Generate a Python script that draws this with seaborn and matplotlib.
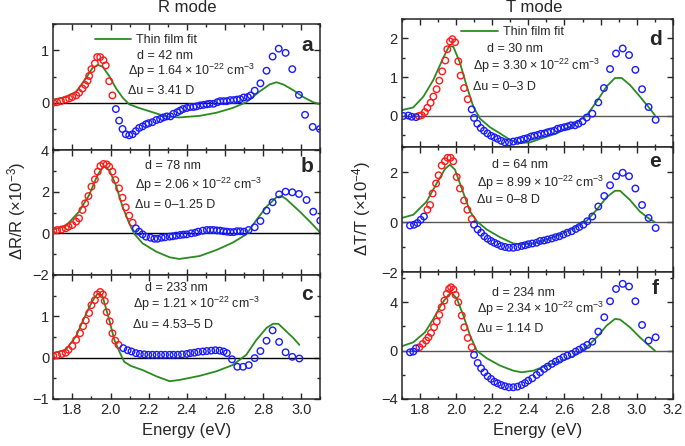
import pandas as pd
import seaborn as sns
import matplotlib.pyplot as plt
from matplotlib.ticker import MultipleLocator

# ---- R mode, panel a (d = 42 nm) ----
a_red_e = [1.70, 1.72, 1.74, 1.765, 1.783, 1.80, 1.82, 1.835, 1.853, 1.867, 1.88, 1.888, 1.90, 1.918, 1.93, 1.946, 1.963, 1.975, 1.993, 2.01]
a_red_v = [0.0, 0.01, 0.03, 0.06, 0.08, 0.11, 0.14, 0.19, 0.27, 0.34, 0.42, 0.51, 0.64, 0.75, 0.87, 0.87, 0.81, 0.71, 0.41, 0.14]
a_blue_e = [2.028, 2.045, 2.063, 2.08, 2.098, 2.116, 2.133, 2.15, 2.168, 2.186, 2.20, 2.22, 2.24, 2.26, 2.277, 2.295, 2.314, 2.33, 2.35, 2.365,
            2.38, 2.40, 2.418, 2.435, 2.45, 2.47, 2.488, 2.505, 2.52, 2.54, 2.56, 2.575, 2.593, 2.61, 2.628, 2.646, 2.663, 2.68, 2.698, 2.72,
            2.735, 2.756, 2.786, 2.818, 2.85, 2.882, 2.918, 2.953, 2.988, 3.02, 3.06, 3.098]
a_blue_v = [-0.12, -0.34, -0.50, -0.60, -0.62, -0.60, -0.54, -0.48, -0.45, -0.41, -0.39, -0.37, -0.33, -0.31, -0.28, -0.26, -0.26, -0.21, -0.18, -0.15,
            -0.12, -0.10, -0.08, -0.08, -0.07, -0.05, -0.04, -0.03, -0.02, -0.02, 0.01, 0.03, 0.03, 0.03, 0.05, 0.05, 0.06, 0.07, 0.10, 0.11,
            0.14, 0.23, 0.37, 0.61, 0.88, 1.03, 0.95, 0.64, 0.15, -0.23, -0.46, -0.50]
a_fit_e = [1.70, 1.765, 1.82, 1.87, 1.905, 1.933, 1.958, 1.993, 2.028, 2.063, 2.098, 2.15, 2.22, 2.29, 2.36, 2.467, 2.555, 2.64, 2.712, 2.78,
           2.835, 2.87, 2.905, 2.958, 3.01, 3.063, 3.10]
a_fit_v = [0.06, 0.11, 0.21, 0.46, 0.66, 0.72, 0.69, 0.51, 0.28, 0.10, -0.03, -0.10, -0.18, -0.26, -0.28, -0.25, -0.19, -0.10, 0.01, 0.21,
           0.35, 0.39, 0.35, 0.24, 0.11, 0.01, -0.03]

# ---- R mode, panel b (d = 78 nm) ----
b_red_e = [1.70, 1.72, 1.745, 1.765, 1.78, 1.80, 1.82, 1.835, 1.853, 1.867, 1.884, 1.90, 1.918, 1.933, 1.947, 1.963, 1.98, 1.993, 2.01, 2.025,
           2.045, 2.063, 2.08, 2.098, 2.116]
b_red_v = [0.13, 0.16, 0.19, 0.24, 0.32, 0.40, 0.56, 0.72, 1.12, 1.44, 1.79, 2.24, 2.59, 2.96, 3.23, 3.33, 3.31, 3.20, 2.96, 2.56,
           2.16, 1.71, 1.25, 0.85, 0.51]
b_blue_e = [2.133, 2.15, 2.168, 2.186, 2.21, 2.23, 2.247, 2.268, 2.286, 2.31, 2.326, 2.344, 2.365, 2.383, 2.40, 2.423, 2.444, 2.46, 2.484, 2.505,
            2.523, 2.54, 2.558, 2.575, 2.593, 2.61, 2.628, 2.646, 2.663, 2.68, 2.70, 2.724, 2.756, 2.786, 2.818, 2.85, 2.884, 2.918, 2.953, 2.988,
            3.028, 3.063, 3.10]
b_blue_v = [0.24, 0.08, -0.05, -0.16, -0.21, -0.26, -0.26, -0.21, -0.19, -0.16, -0.14, -0.11, -0.08, -0.06, -0.05, 0.0, 0.03, 0.08, 0.13, 0.16,
            0.16, 0.16, 0.14, 0.13, 0.10, 0.08, 0.06, 0.06, 0.10, 0.10, 0.08, 0.16, 0.29, 0.59, 1.09, 1.49, 1.87, 2.0, 1.97, 1.89,
            1.6, 1.04, 0.61]
b_fit_e = [1.70, 1.765, 1.835, 1.888, 1.932, 1.963, 1.993, 2.028, 2.063, 2.098, 2.125, 2.168, 2.24, 2.31, 2.36, 2.467, 2.555, 2.64, 2.712, 2.765,
           2.818, 2.87, 2.897, 2.923, 2.993, 3.054, 3.10]
b_fit_v = [0.19, 0.35, 1.04, 1.84, 2.8, 3.23, 3.04, 2.32, 1.28, 0.48, -0.03, -0.48, -0.88, -1.15, -1.23, -1.09, -0.8, -0.45, -0.05, 0.64,
           1.28, 1.73, 1.79, 1.63, 1.04, 0.48, 0.03]

# ---- R mode, panel c (d = 233 nm) ----
c_red_e = [1.70, 1.72, 1.745, 1.765, 1.78, 1.80, 1.82, 1.84, 1.856, 1.87, 1.888, 1.90, 1.918, 1.93, 1.946, 1.96, 1.97, 1.98, 1.996, 2.01,
           2.025, 2.042]
c_red_v = [0.04, 0.06, 0.09, 0.12, 0.19, 0.28, 0.43, 0.59, 0.76, 0.90, 1.08, 1.27, 1.39, 1.53, 1.59, 1.53, 1.37, 1.10, 0.88, 0.59,
           0.41, 0.31]
c_blue_e = [2.067, 2.09, 2.11, 2.133, 2.154, 2.177, 2.198, 2.22, 2.242, 2.265, 2.286, 2.31, 2.33, 2.353, 2.375, 2.40, 2.418, 2.44, 2.46, 2.484,
            2.505, 2.528, 2.55, 2.572, 2.593, 2.61, 2.637, 2.665, 2.695, 2.725, 2.756, 2.786, 2.818, 2.85, 2.884, 2.918, 2.953, 2.99]
c_blue_v = [0.23, 0.18, 0.15, 0.11, 0.09, 0.08, 0.07, 0.07, 0.07, 0.07, 0.07, 0.07, 0.07, 0.07, 0.08, 0.09, 0.11, 0.12, 0.14, 0.15,
            0.16, 0.17, 0.18, 0.17, 0.15, 0.11, -0.04, -0.22, -0.22, -0.18, -0.01, 0.16, 0.41, 0.66, 0.38, 0.13, 0.02, -0.02]
c_fit_e = [1.70, 1.765, 1.818, 1.87, 1.905, 1.933, 1.958, 1.993, 2.02, 2.046, 2.072, 2.107, 2.168, 2.24, 2.31, 2.36, 2.467, 2.555, 2.64, 2.712,
           2.765, 2.818, 2.853, 2.88, 2.923, 2.96, 2.99]
c_fit_v = [0.11, 0.19, 0.51, 1.04, 1.37, 1.55, 1.49, 0.92, 0.43, 0.15, -0.10, -0.20, -0.30, -0.45, -0.57, -0.54, -0.44, -0.33, -0.18, 0.07,
           0.43, 0.72, 0.82, 0.82, 0.63, 0.47, 0.31]

# ---- T mode, panel d (d = 30 nm) ----
d_red_e = [1.795, 1.81, 1.828, 1.842, 1.86, 1.875, 1.893, 1.908, 1.924, 1.941, 1.952, 1.967, 1.98, 1.995, 2.013, 2.026, 2.045, 2.065]
d_red_v = [0.0, 0.02, 0.10, 0.21, 0.34, 0.50, 0.69, 0.91, 1.15, 1.43, 1.72, 1.92, 1.98, 1.90, 1.41, 1.04, 0.72, 0.43]
d_blue_e = [1.709, 1.737, 1.755, 1.779, 2.087, 2.10, 2.118, 2.137, 2.155, 2.174, 2.194, 2.212, 2.23, 2.25, 2.271, 2.293, 2.317, 2.34, 2.358, 2.376,
            2.395, 2.415, 2.433, 2.452, 2.47, 2.49, 2.507, 2.525, 2.544, 2.562, 2.58, 2.60, 2.618, 2.636, 2.658, 2.677, 2.70, 2.723, 2.754, 2.787,
            2.818, 2.852, 2.885, 2.922, 2.957, 2.992, 3.029, 3.065, 3.104]
d_blue_v = [0.0, 0.01, -0.02, -0.03, 0.17, -0.05, -0.20, -0.31, -0.38, -0.45, -0.51, -0.55, -0.59, -0.64, -0.68, -0.68, -0.66, -0.64, -0.62, -0.59,
            -0.57, -0.53, -0.51, -0.49, -0.46, -0.45, -0.42, -0.40, -0.38, -0.33, -0.31, -0.29, -0.27, -0.24, -0.24, -0.20, -0.14, -0.04, 0.06, 0.35,
            0.72, 1.21, 1.61, 1.74, 1.57, 1.19, 0.69, 0.23, -0.10]
d_fit_e = [1.70, 1.764, 1.82, 1.875, 1.93, 1.963, 1.986, 2.022, 2.06, 2.096, 2.133, 2.188, 2.244, 2.30, 2.354, 2.41, 2.465, 2.557, 2.649, 2.723,
           2.778, 2.833, 2.879, 2.916, 2.962, 3.017, 3.063, 3.10]
d_fit_v = [0.15, 0.22, 0.50, 0.93, 1.50, 1.81, 1.78, 1.37, 0.76, 0.24, -0.07, -0.29, -0.45, -0.62, -0.70, -0.68, -0.59, -0.45, -0.23, 0.02,
           0.37, 0.76, 0.98, 0.98, 0.80, 0.50, 0.24, 0.02]

# ---- T mode, panel e (d = 64 nm) ----
e_red_e = [1.842, 1.857, 1.871, 1.89, 1.904, 1.921, 1.939, 1.954, 1.97, 1.985, 2.004, 2.022, 2.045, 2.063, 2.087]
e_red_v = [0.49, 0.68, 1.14, 1.54, 1.87, 2.26, 2.43, 2.57, 2.57, 2.43, 1.80, 1.34, 0.86, 0.49, 0.12]
e_blue_e = [1.746, 1.768, 1.787, 1.805, 1.823, 2.10, 2.12, 2.139, 2.157, 2.175, 2.194, 2.212, 2.23, 2.25, 2.271, 2.293, 2.317, 2.34, 2.363, 2.382,
            2.40, 2.422, 2.446, 2.465, 2.487, 2.507, 2.53, 2.551, 2.572, 2.594, 2.616, 2.64, 2.662, 2.682, 2.704, 2.726, 2.754, 2.787, 2.82, 2.852,
            2.885, 2.922, 2.957, 2.992, 3.029, 3.065, 3.104]
e_blue_v = [-0.14, -0.11, -0.04, 0.09, 0.22, -0.11, -0.30, -0.43, -0.57, -0.67, -0.76, -0.83, -0.89, -0.96, -1.00, -1.03, -1.03, -1.00, -0.96, -0.93,
            -0.89, -0.86, -0.83, -0.76, -0.74, -0.70, -0.66, -0.61, -0.57, -0.50, -0.43, -0.37, -0.28, -0.20, -0.11, 0.03, 0.22, 0.62, 1.04, 1.47,
            1.83, 1.97, 1.83, 1.34, 0.68, 0.16, -0.24]
e_fit_e = [1.70, 1.764, 1.838, 1.893, 1.94, 1.967, 1.995, 2.032, 2.078, 2.115, 2.17, 2.244, 2.317, 2.363, 2.428, 2.50, 2.575, 2.649, 2.723, 2.778,
           2.833, 2.879, 2.907, 2.962, 3.017, 3.063, 3.10]
e_fit_v = [0.16, 0.29, 0.82, 1.54, 2.13, 2.29, 2.09, 1.34, 0.42, 0.03, -0.30, -0.61, -0.86, -0.89, -0.86, -0.70, -0.50, -0.26, 0.05, 0.49,
           0.99, 1.25, 1.25, 0.88, 0.42, 0.16, -0.01]

# ---- T mode, panel f (d = 234 nm) ----
f_red_e = [1.798, 1.816, 1.835, 1.848, 1.862, 1.879, 1.894, 1.908, 1.921, 1.936, 1.949, 1.962, 1.973, 1.986, 1.998, 2.013, 2.032, 2.046, 2.065, 2.087]
f_red_v = [0.28, 0.55, 0.83, 1.10, 1.46, 1.93, 2.40, 2.95, 3.59, 4.14, 4.69, 5.10, 5.24, 5.05, 4.61, 4.00, 2.90, 1.93, 1.05, 0.28]
f_blue_e = [1.746, 1.764, 1.779, 2.10, 2.12, 2.139, 2.157, 2.175, 2.194, 2.212, 2.23, 2.25, 2.271, 2.293, 2.317, 2.34, 2.363, 2.382, 2.40, 2.422,
            2.446, 2.465, 2.487, 2.507, 2.53, 2.551, 2.572, 2.594, 2.616, 2.64, 2.662, 2.682, 2.704, 2.726, 2.754, 2.787, 2.82, 2.852, 2.885, 2.922,
            2.957, 2.992, 3.029, 3.065, 3.104]
f_blue_v = [-0.14, -0.08, 0.19, -0.36, -1.02, -1.46, -1.79, -2.12, -2.34, -2.57, -2.70, -2.84, -2.95, -3.03, -3.03, -2.98, -2.84, -2.68, -2.48, -2.29,
            -2.01, -1.79, -1.52, -1.32, -1.10, -0.91, -0.74, -0.55, -0.41, -0.28, -0.08, 0.08, 0.28, 0.47, 0.74, 1.57, 2.76, 4.08, 5.10, 5.52,
            5.30, 4.08, 2.12, 0.83, 1.10]
f_fit_e = [1.70, 1.764, 1.829, 1.875, 1.921, 1.958, 1.976, 2.004, 2.041, 2.078, 2.115, 2.17, 2.244, 2.317, 2.363, 2.428, 2.50, 2.575, 2.649, 2.723,
           2.778, 2.833, 2.879, 2.907, 2.962, 3.017, 3.063, 3.10]
f_fit_v = [0.36, 0.69, 1.52, 2.62, 3.86, 4.61, 4.77, 4.33, 2.90, 1.24, 0.0, -0.63, -1.24, -1.66, -1.79, -1.66, -1.24, -0.91, -0.47, 0.28,
           1.10, 2.07, 2.62, 2.57, 1.93, 1.10, 0.47, 0.0]

# panel text
letters = ["a", "b", "c", "d", "e", "f"]
thickness = ["d = 42 nm", "d = 78 nm", "d = 233 nm", "d = 30 nm", "d = 64 nm", "d = 234 nm"]
dp_vals = ["1.64", "2.06", "1.21", "3.30", "8.99", "2.34"]
du_vals = ["3.41 D", "0\u20131.25 D", "4.53\u20135 D", "0\u20133 D", "0\u20138 D", "1.14 D"]

sns.set_style("ticks")
plt.rcParams["font.family"] = ["Liberation Sans", "DejaVu Sans"]
plt.rcParams["mathtext.default"] = "regular"
plt.rcParams["axes.linewidth"] = 1.1

RED, BLUE, GREEN = "#ff1a1a", "#1a1aff", "#2b8a22"

W, H = 685, 446
fig = plt.figure(figsize=(W / 100, H / 100), dpi=100)


def add_ax(x0, x1, y0, y1):
    return fig.add_axes([x0 / W, 1 - y1 / H, (x1 - x0) / W, (y1 - y0) / H])


panels = [
    dict(red=(a_red_e, a_red_v), blue=(a_blue_e, a_blue_v), fit=(a_fit_e, a_fit_v), box=(53.3, 320.3, 24, 150),
         ylim=(-0.9, 1.5), major=1, minor=0.5, xlim=(1.7, 3.1), zero="black",
         txt=[(0.312, 0.75), (0.28, 0.625), (0.28, 0.47)], let=(0.95, 0.83), leg=(0.155, 0.87)),
    dict(red=(b_red_e, b_red_v), blue=(b_blue_e, b_blue_v), fit=(b_fit_e, b_fit_v), box=(53.3, 320.3, 150, 275),
         ylim=(-2, 4), major=2, minor=1, xlim=(1.7, 3.1), zero="black",
         txt=[(0.343, 0.872), (0.306, 0.72), (0.306, 0.56)], let=(0.949, 0.867), leg=None),
    dict(red=(c_red_e, c_red_v), blue=(c_blue_e, c_blue_v), fit=(c_fit_e, c_fit_v), box=(53.3, 320.3, 275, 399),
         ylim=(-1, 2), major=1, minor=0.5, xlim=(1.7, 3.1), zero="black",
         txt=[(0.343, 0.893), (0.30, 0.764), (0.30, 0.597)], let=(0.949, 0.84), leg=None),
    dict(red=(d_red_e, d_red_v), blue=(d_blue_e, d_blue_v), fit=(d_fit_e, d_fit_v), box=(401.7, 673, 19, 147),
         ylim=(-0.8, 2.5), major=1, minor=0.5, xlim=(1.7, 3.2), zero="#555555",
         txt=[(0.313, 0.765), (0.262, 0.635), (0.262, 0.466)], let=(0.934, 0.84), leg=(0.22, 0.895)),
    dict(red=(e_red_e, e_red_v), blue=(e_blue_e, e_blue_v), fit=(e_fit_e, e_fit_v), box=(401.7, 673, 147, 272),
         ylim=(-2, 3), major=2, minor=1, xlim=(1.7, 3.2), zero="#555555",
         txt=[(0.332, 0.856), (0.276, 0.71), (0.276, 0.576)], let=(0.934, 0.882), leg=None),
    dict(red=(f_red_e, f_red_v), blue=(f_blue_e, f_blue_v), fit=(f_fit_e, f_fit_v), box=(401.7, 673, 272, 399),
         ylim=(-4, 6.5), major=4, minor=2, xlim=(1.7, 3.2), zero="#555555",
         txt=[(0.332, 0.837), (0.276, 0.706), (0.276, 0.549)], let=(0.934, 0.87), leg=None),
]

for i, p in enumerate(panels):
    ax = add_ax(*p["box"])
    ax.axhline(0, color=p["zero"], lw=1.0, zorder=1)
    sns.lineplot(x=p["fit"][0], y=p["fit"][1], color=GREEN, lw=1.3, ax=ax,
                 estimator=None, label="Thin film fit", legend=False, zorder=2)
    for key, col in (("red", RED), ("blue", BLUE)):
        sns.scatterplot(x=p[key][0], y=p[key][1], ax=ax, marker="o",
                        s=22, facecolor="none", edgecolor=col, linewidth=1.0, legend=False, zorder=3)

    ax.set_xlim(*p["xlim"])
    ax.set_ylim(*p["ylim"])
    ax.xaxis.set_major_locator(MultipleLocator(0.2))
    ax.xaxis.set_minor_locator(MultipleLocator(0.1))
    ax.yaxis.set_major_locator(MultipleLocator(p["major"]))
    ax.yaxis.set_minor_locator(MultipleLocator(p["minor"]))
    ax.tick_params(which="both", direction="in", top=True, right=True, width=1.0, labelsize=10.5, pad=3)
    ax.tick_params(which="major", length=4)
    ax.tick_params(which="minor", length=2.5)
    for s in ax.spines.values():
        s.set_linewidth(1.1)
    if i in (2, 5):
        ax.xaxis.set_major_formatter(plt.FuncFormatter(lambda v, _: f"{v:.1f}"))
        ax.set_xlabel("Energy (eV)", fontsize=12, labelpad=4)
    else:
        ax.set_xticklabels([])
    if i == 2:
        ax.set_yticks([-1, 0, 1])
    ax.yaxis.set_major_formatter(plt.FuncFormatter(lambda v, _: f"{v:g}".replace("-", "\u2212")))
    ax.set_ylabel("")

    tx = p["txt"]
    fs = 9
    ax.text(*tx[0], thickness[i], transform=ax.transAxes, fontsize=fs, va="center", ha="left")
    ax.text(*tx[1], "\u0394p = " + dp_vals[i] + "\u2009\u00d7\u200910$^{\u221222}$ cm$^{\u22123}$",
            transform=ax.transAxes, fontsize=fs, va="center", ha="left")
    ax.text(*tx[2], "\u0394u = " + du_vals[i], transform=ax.transAxes, fontsize=fs, va="center", ha="left")
    ax.text(*p["let"], letters[i], transform=ax.transAxes, fontsize=15, fontweight="bold", ha="center", va="center")
    if p["leg"] is not None:
        ax.legend(handles=ax.lines[1:2], labels=["Thin film fit"], loc="center left", bbox_to_anchor=p["leg"],
                  frameon=False, fontsize=9, handlelength=2.9, handletextpad=0.4, borderpad=0, borderaxespad=0)

fig.text(186.8 / W, 1 - 8 / H, "R mode", fontsize=12, ha="center", va="center")
fig.text(534 / W, 1 - 8 / H, "T mode", fontsize=12, ha="center", va="center")
fig.text(17 / W, 1 - 211 / H, "\u0394R/R (\u00d710$^{\u22123}$)", fontsize=12, rotation=90, ha="center", va="center")
fig.text(362 / W, 1 - 209 / H, "\u0394T/T (\u00d710$^{\u22124}$)", fontsize=12, rotation=90, ha="center", va="center")

plt.savefig("out.png", dpi=100)
